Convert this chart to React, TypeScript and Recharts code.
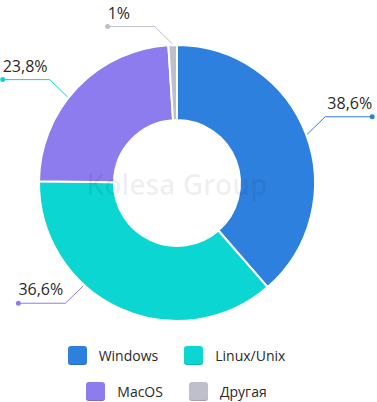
import React from "react";
import { PieChart, Pie, Cell } from "recharts";

const CATEGORIES = ["Windows", "Linux/Unix", "MacOS", "Другая"];
const VALUES = [38.6, 36.6, 23.8, 1];
const LABELS = ["38,6%", "36,6%", "23,8%", "1%"];

const COLORS = ["#2E80DE", "#0BD6D2", "#8C7CEE", "#BDBFCB"];
const LINE_COLORS = ["#2E80DE", "#8C7CEE", "#0BD6D2", "#BDBFCB"];
const ANGLE_SHIFT = [0, -17.5, 5.4, 0];

const data = CATEGORIES.map((name, i) => ({ name, value: VALUES[i], label: LABELS[i] }));

const RAD = Math.PI / 180;

const renderLabel = (props: any) => {
  const { cx, cy, midAngle, outerRadius, index } = props;
  const a = (midAngle + ANGLE_SHIFT[index]) * RAD;
  const px = cx + (outerRadius + 1) * Math.cos(a);
  const py = cy - (outerRadius + 1) * Math.sin(a);
  const sx = Math.cos(a) >= 0 ? 1 : -1;
  const sy = Math.sin(a) >= 0 ? -1 : 1;
  const ex = px + sx * 18;
  const ey = py + sy * 17.5;
  const dx = ex + sx * 47;
  const color = LINE_COLORS[index];
  return (
    <g key={`lbl-${index}`}>
      <polyline
        points={`${px},${py} ${ex},${ey} ${dx},${ey}`}
        fill="none"
        stroke={color}
        strokeWidth={1}
      />
      <circle cx={dx} cy={ey} r={2.5} fill={color} />
      <text
        x={dx}
        y={ey - 8}
        textAnchor={sx > 0 ? "end" : "start"}
        fill="#2a2a2a"
        fontSize={16}
        fontFamily="'Open Sans', sans-serif"
      >
        {LABELS[index]}
      </text>
    </g>
  );
};

const LegendItem = ({ name, color }: { name: string; color: string }) => (
  <div style={{ display: "flex", alignItems: "center", margin: "0 13px" }}>
    <div
      style={{
        width: 19,
        height: 19,
        borderRadius: 3,
        background: color,
        boxShadow: "inset 0 -1px 0 rgba(0,0,0,0.15)",
        marginRight: 12,
      }}
    />
    <span style={{ fontSize: 14, color: "#2a2a2a", fontFamily: "'Open Sans', sans-serif", lineHeight: "19px" }}>
      {name}
    </span>
  </div>
);

export default function App() {
  return (
    <div style={{ position: "absolute", left: 0, top: 0, width: 377, height: 402, background: "#fff" }}>
      <PieChart width={377} height={402} margin={{ top: 0, right: 0, bottom: 0, left: 0 }}>
        <Pie
          data={data}
          dataKey="value"
          nameKey="name"
          cx={177}
          cy={183}
          innerRadius={63}
          outerRadius={138}
          startAngle={90}
          endAngle={-270}
          stroke="#fff"
          strokeWidth={2}
          label={renderLabel}
          labelLine={false}
          isAnimationActive={false}
        >
          {data.map((d, i) => (
            <Cell key={d.name} fill={COLORS[i]} />
          ))}
        </Pie>
      </PieChart>
      <div
        style={{
          position: "absolute",
          left: 0,
          top: 165,
          width: 354,
          textAlign: "center",
          fontSize: 28,
          fontWeight: 600,
          fontFamily: "'Open Sans', sans-serif",
          color: "rgba(0,0,0,0.07)",
          pointerEvents: "none",
          lineHeight: "38px",
        }}
      >
        Kolesa Group
      </div>
      <div
        style={{
          position: "absolute",
          left: 0,
          top: 346,
          width: 353,
          display: "flex",
          flexDirection: "column",
          alignItems: "center",
        }}
      >
        <div style={{ display: "flex", justifyContent: "center", height: 19 }}>
          <LegendItem name={CATEGORIES[0]} color={COLORS[0]} />
          <LegendItem name={CATEGORIES[1]} color={COLORS[1]} />
        </div>
        <div style={{ display: "flex", justifyContent: "center", height: 19, marginTop: 17 }}>
          <LegendItem name={CATEGORIES[2]} color={COLORS[2]} />
          <LegendItem name={CATEGORIES[3]} color={COLORS[3]} />
        </div>
      </div>
    </div>
  );
}
